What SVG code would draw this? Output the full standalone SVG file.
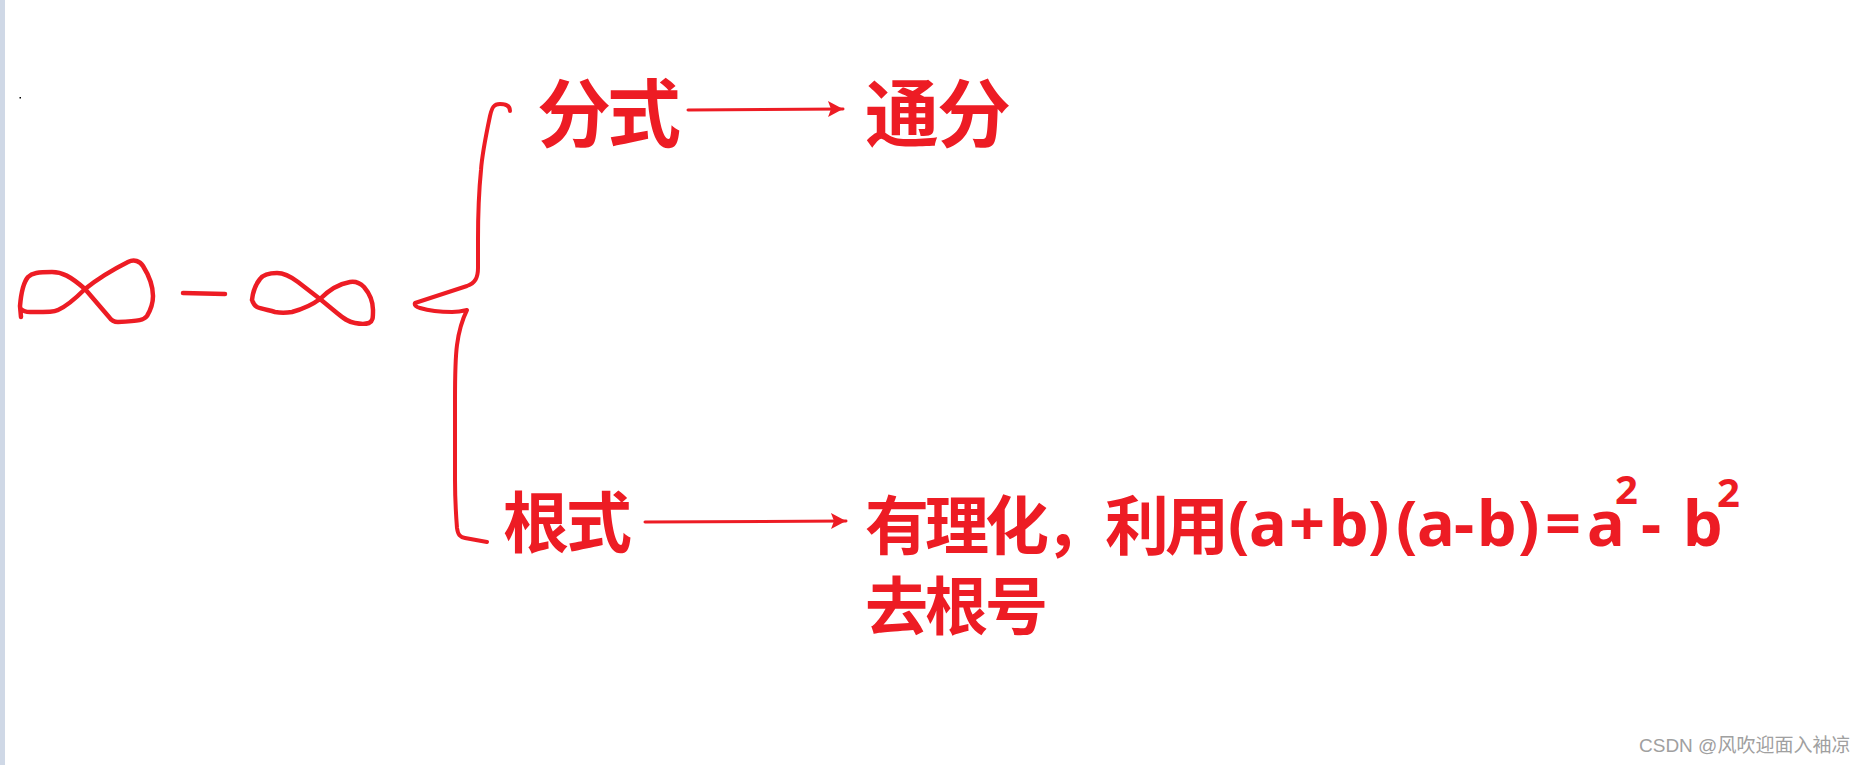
<svg xmlns="http://www.w3.org/2000/svg" width="1865" height="765" viewBox="0 0 1865 765">
<style>
.ink{fill:none;stroke:#ED1C24;stroke-linecap:round;stroke-linejoin:round}
.cjk{font-family:"Noto Sans CJK SC","Noto Sans",sans-serif;font-weight:700;fill:#ED1C24}
.lat{font-family:"Noto Sans","Noto Sans CJK SC",sans-serif;font-weight:700;fill:#ED1C24}
.wm{font-family:"Liberation Sans","Noto Sans CJK SC",sans-serif;font-size:19px;fill:#a0a0a0}
</style>
<defs>
<marker id="ah" markerUnits="userSpaceOnUse" markerWidth="20" markerHeight="20" viewBox="-16 -10 20 20" refX="0" refY="0" orient="auto">
<path d="M0,0 L-15,-8 L-12,0 L-15,8 Z" fill="#ED1C24"/>
</marker>
</defs>
<rect width="1865" height="765" fill="#ffffff"/>
<rect x="0" y="0" width="5" height="765" fill="#cfd8e6"/>
<rect x="19.5" y="97" width="1.5" height="1.5" fill="#000"/>

<g id="expr">
<path class="ink" stroke-width="4.5" d="M21,317 L20,306 C21,294 23,283 28,277 C32,273 38,272 52,272 C62,272 70,276 85,289 C95,281 112,270 128,262 C134,259 140,261 143,266 C148,274 153,284 153,296 C153,304 150,311 147,316 C144,320 140,321 118,322 C114,322 111,320 109,317 L85,289 C75,299 67,306 58,310 C54,312 50,312 30,312 C26,312 23,311 21,309"/>
<path class="ink" stroke-width="4.5" d="M183,293 L225,294"/>
<path class="ink" stroke-width="4.5" d="M252,300 C253,290 256,284 260,279 C263,275 268,273 277,273 C283,273 290,276 298,282 L320,299 C328,291 338,284 350,282 C356,281 360,283 364,287 C370,294 373,300 373,310 C373,318 373,321 369,323 C366,324 360,324 355,323 C348,322 343,318 337,313 L320,299 C312,305 303,309 292,312 C285,313 281,313 275,312 C268,310 262,309 257,307 C254,305 253,303 252,300"/>
</g>

<g id="brace">
<path class="ink" stroke-width="4" d="M510,111 C510,106 506,104 500,104 C494,104 492,107 490,116 C486,135 482,155 481,170 C479,190 478,215 478,240 L478,268 C478,278 475,283 467,286 L415,303 C414,305 416,307 420,308 C430,311 440,312 452,312 C458,312 463,311 467,310 C462,320 459,330 457,345 C455,360 455,380 455,400 L455,480 C455,500 456,515 457,528 C458,535 460,537 465,538 L487,542"/>
</g>

<g id="fenshi"><text class="cjk" x="537" y="141" font-size="74" letter-spacing="-4">分式</text></g>
<g id="tongfen"><text class="cjk" x="865" y="141" font-size="74" letter-spacing="-2">通分</text></g>
<g id="genshi"><text class="cjk" x="503" y="547" font-size="66" letter-spacing="-3">根式</text></g>
<g id="youlihua">
<text class="cjk" font-size="64"><tspan x="865" y="549" letter-spacing="-4">有理化，利用</tspan><tspan class="lat" font-size="63" y="546" x="1228 1249 1289 1329 1368 1396 1417 1454 1477 1518 1545 1587">(a+b)(a-b)=a</tspan><tspan class="lat" font-size="40" x="1615" y="504">2</tspan><tspan class="lat" font-size="63" x="1641" y="546">-</tspan><tspan class="lat" font-size="63" x="1683" y="546">b</tspan><tspan class="lat" font-size="40" x="1717" y="507">2</tspan><tspan x="865" y="629" font-size="63" letter-spacing="-3">去根号</tspan></text>
</g>

<g id="connectors">
<path class="ink" stroke-width="3" d="M688,110 L843,109" marker-end="url(#ah)"/>
<path class="ink" stroke-width="3" d="M645,522 L846,521" marker-end="url(#ah)"/>
</g>

<text class="wm" x="1639" y="752">CSDN @风吹迎面入袖凉</text>
</svg>
